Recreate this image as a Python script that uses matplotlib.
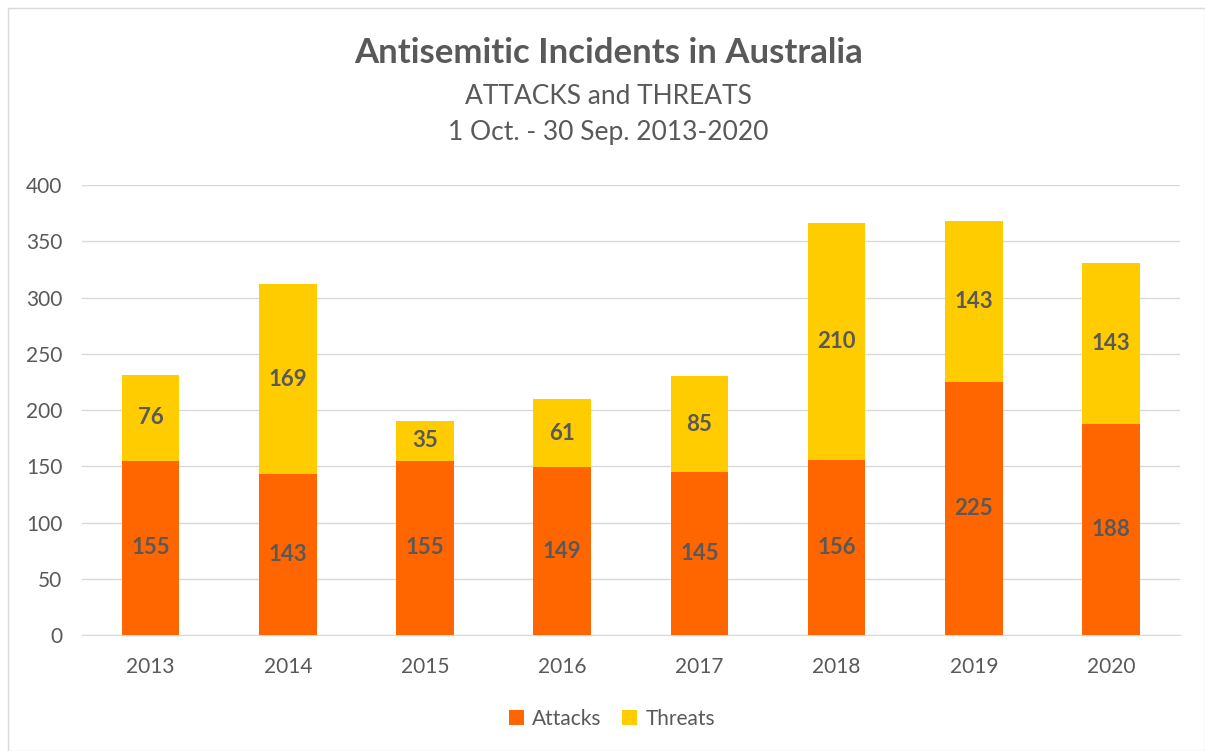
import numpy as np
import matplotlib.pyplot as plt
from matplotlib.patches import Rectangle

plt.rcParams['font.family'] = ['Lato', 'DejaVu Sans']

years = ['2013', '2014', '2015', '2016', '2017', '2018', '2019', '2020']
attacks = [155, 143, 155, 149, 145, 156, 225, 188]
threats = [76, 169, 35, 61, 85, 210, 143, 143]

orange = '#FF6600'
yellow = '#FFCC00'
txt = '#595959'

fig = plt.figure(figsize=(12.05, 7.51), dpi=100)
fig.patches.append(Rectangle((0.007, 0.0), 0.993, 0.99, transform=fig.transFigure,
                             fill=False, edgecolor='#D9D9D9', linewidth=1))
ax = fig.add_axes([0.068, 0.1545, 0.911, 0.599])

x = np.arange(len(years))
w = 0.42
b1 = ax.bar(x, attacks, w, color=orange, label='Attacks', zorder=3)
b2 = ax.bar(x, threats, w, bottom=attacks, color=yellow, label='Threats', zorder=3)
ax.bar_label(b1, label_type='center', fontsize=16, fontweight='bold', color=txt)
ax.bar_label(b2, label_type='center', fontsize=16, fontweight='bold', color=txt)

ax.set_xlim(-0.5, 7.5)
ax.set_ylim(0, 400)
ax.set_yticks(range(0, 401, 50))
ax.set_xticks(x)
ax.set_xticklabels(years)
ax.grid(axis='y', color='#D9D9D9', linewidth=1, zorder=0)
for s in ['top', 'right', 'left']:
    ax.spines[s].set_visible(False)
ax.spines['bottom'].set_color('#D9D9D9')
ax.tick_params(axis='both', length=0, labelsize=15, colors=txt)
ax.tick_params(axis='x', pad=16)
ax.tick_params(axis='y', pad=14)

fig.text(0.505, 0.93, 'Antisemitic Incidents in Australia', ha='center', va='center',
         fontsize=25, fontweight='bold', color=txt)
fig.text(0.505, 0.872, 'ATTACKS and THREATS', ha='center', va='center', fontsize=19, color=txt)
fig.text(0.505, 0.823, '1 Oct. - 30 Sep. 2013-2020', ha='center', va='center', fontsize=19, color=txt)

fig.legend(loc='center', bbox_to_anchor=(0.508, 0.043), ncol=2, frameon=False,
           fontsize=15, labelcolor=txt, handlelength=0.7, handleheight=0.7,
           columnspacing=1.0, handletextpad=0.4)

fig.savefig('out.png', dpi=100)
